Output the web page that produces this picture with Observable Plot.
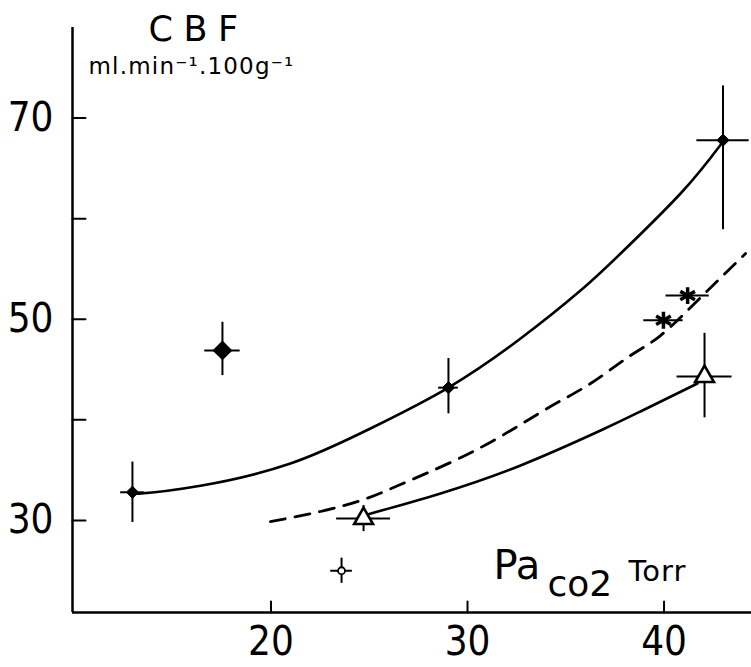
<!DOCTYPE html>
<html>
<head>
<meta charset="utf-8">
<script src="https://cdn.jsdelivr.net/npm/d3@7"></script>
<script src="https://cdn.jsdelivr.net/npm/@observablehq/plot@0.6"></script>
<style>
  html, body { margin: 0; padding: 0; background: #fff; }
  #chart svg { display: block; }
</style>
</head>
<body>
<div id="chart"></div>
<script>
// ---- scales / ticks ----
const xDomain = [9.9, 44.45];
const yDomain = [20.85, 79.0];
const xTicks = [20, 30, 40];
const xTickLabels = ["20", "30", "40"];
const yTicks = [30, 40, 50, 60, 70];
const yLabelTicks = [30, 50, 70];
const yTickLabels = ["30", "50", "70"];

// ---- filled diamonds (upper solid curve) ----
const diamondX = [12.95, 29.03, 43.0];
const diamondY = [32.8, 43.2, 67.8];
const diamondUp = [3.0, 2.9, 5.4];
const diamondDown = [3.0, 2.6, 8.9];
const diamondXErr = [0.6, 0.5, 1.33];

// ---- large filled diamond ----
const bigX = [17.53];
const bigY = [46.9];
const bigUp = [2.8];
const bigDown = [2.5];
const bigXErr = [0.9];

// ---- asterisks ----
const starX = [39.97, 41.2];
const starY = [49.9, 52.35];
const starXErr = [1.0, 1.1];

// ---- open triangles (lower solid curve) ----
const triX = [24.71, 42.06];
const triY = [30.19, 44.3];
const triUp = [1.3, 4.3];
const triDown = [1.3, 4.1];
const triXErr = [1.37, 1.4];

// ---- small open point ----
const openX = [23.59];
const openY = [25.0];
const openYErr = [1.25];
const openXErr = [0.55];

// ---- curves ----
const upperCurveX = [12.95, 13.26, 16.41, 20.99, 25.06, 29.03, 32.70, 35.75, 37.79, 40.84, 42.9];
const upperCurveY = [32.8, 32.67, 33.45, 35.66, 39.14, 43.21, 48.08, 52.85, 56.53, 62.50, 67.4];
const dashedCurveX = [19.97, 22.52, 24.71, 26.59, 29.13, 31.68, 34.22, 36.26, 38.29, 39.82, 41.86, 44.15];
const dashedCurveY = [29.89, 30.89, 32.08, 33.57, 35.76, 38.34, 41.32, 43.61, 46.39, 48.38, 52.16, 56.53];
const lowerCurveX = [24.91, 28.63, 32.70, 36.77, 38.80, 41.70];
const lowerCurveY = [30.6, 32.69, 35.47, 38.94, 40.83, 43.61];

// ---- text ----
const yTitle = "CBF";
const yUnit = "ml.min\u207B\u00B9.100g\u207B\u00B9";
const xTitleMain = "Pa";
const xTitleSub = "co2";
const xTitleUnit = "Torr";

// ---- build tables ----
const mk = (xs, ys, up, dn, xe) => xs.map((x, i) => ({x, y: ys[i], up: up ? up[i] : 0, dn: dn ? dn[i] : 0, xe: xe ? xe[i] : 0}));
const diamonds = mk(diamondX, diamondY, diamondUp, diamondDown, diamondXErr);
const bigs = mk(bigX, bigY, bigUp, bigDown, bigXErr);
const stars = mk(starX, starY, null, null, starXErr);
const tris = mk(triX, triY, triUp, triDown, triXErr);
const opens = mk(openX, openY, openYErr, openYErr, openXErr);
const allErr = [...diamonds, ...bigs, ...stars, ...tris, ...opens];
const line = (xs, ys) => xs.map((x, i) => ({x, y: ys[i]}));

const digitFont = "'Liberation Sans Narrow', 'DejaVu Sans Condensed', 'DejaVu Sans', sans-serif";
const textFont = "'DejaVu Sans', sans-serif";
const tickShape = {draw(context, l) { context.moveTo(0, 0); context.lineTo(0, -l); }};

const chart = Plot.plot({
  width: 751,
  height: 667,
  marginLeft: 72,
  marginRight: 0,
  marginTop: 27,
  marginBottom: 55,
  style: {background: "#fff", color: "#000", fontFamily: textFont},
  x: {domain: xDomain},
  y: {domain: yDomain},
  marks: [
    // axis lines
    Plot.ruleX([xDomain[0]], {y1: yDomain[0], y2: yDomain[1], stroke: "#000", strokeWidth: 2.5}),
    Plot.ruleY([yDomain[0]], {x1: xDomain[0], x2: xDomain[1], stroke: "#000", strokeWidth: 2.5}),
    // inward ticks
    Plot.vector(yTicks, {x: xDomain[0], y: d => d, rotate: 90, length: 13, anchor: "start", shape: tickShape, stroke: "#000", strokeWidth: 2}),
    Plot.vector(xTicks, {x: d => d, y: yDomain[0], rotate: 0, length: 11, anchor: "start", shape: tickShape, stroke: "#000", strokeWidth: 2}),
    // tick labels
    Plot.axisY({ticks: yLabelTicks, tickFormat: (d) => yTickLabels[yLabelTicks.indexOf(d)], anchor: "left", tickSize: 0, tickPadding: 19, fontSize: 40, fontFamily: digitFont, label: null}),
    Plot.axisX({ticks: xTicks, tickFormat: (d) => xTickLabels[xTicks.indexOf(d)], anchor: "bottom", tickSize: 0, tickPadding: 14, fontSize: 40, fontFamily: digitFont, label: null}),
    // curves
    Plot.line(line(upperCurveX, upperCurveY), {x: "x", y: "y", curve: "natural", stroke: "#000", strokeWidth: 2.6}),
    Plot.line(line(lowerCurveX, lowerCurveY), {x: "x", y: "y", curve: "natural", stroke: "#000", strokeWidth: 2.6}),
    Plot.line(line(dashedCurveX, dashedCurveY), {x: "x", y: "y", curve: "natural", stroke: "#000", strokeWidth: 2.8, strokeDasharray: "15,10"}),
    // error bars
    Plot.ruleX(allErr.filter(d => d.up || d.dn), {x: "x", y1: d => d.y - d.dn, y2: d => d.y + d.up, stroke: "#000", strokeWidth: 2}),
    Plot.ruleY(allErr.filter(d => d.xe), {y: "y", x1: d => d.x - d.xe, x2: d => d.x + d.xe, stroke: "#000", strokeWidth: 2}),
    // markers
    Plot.dot(diamonds, {x: "x", y: "y", symbol: "diamond2", r: 5.5, fill: "#000", stroke: "#000", strokeWidth: 1}),
    Plot.dot(bigs, {x: "x", y: "y", symbol: "diamond2", r: 8, fill: "#000", stroke: "#000", strokeWidth: 1.5}),
    Plot.dot(stars, {x: "x", y: "y", symbol: "asterisk", r: 8, stroke: "#000", strokeWidth: 3.5}),
    Plot.dot(tris, {x: "x", y: "y", symbol: "triangle", r: 7, fill: "#fff", stroke: "#000", strokeWidth: 2.6}),
    Plot.dot(opens, {x: "x", y: "y", symbol: "circle", r: 3.5, fill: "#fff", stroke: "#000", strokeWidth: 1.8}),
    // titles
    Plot.text([yTitle], {frameAnchor: "top-left", dx: 76, dy: 13, lineAnchor: "bottom", textAnchor: "start", fontSize: 35, fontFamily: textFont}),
    Plot.text([yUnit], {frameAnchor: "top-left", dx: 16, dy: 46, lineAnchor: "bottom", textAnchor: "start", fontSize: 23, fontFamily: textFont}),
    Plot.text([xTitleMain], {frameAnchor: "bottom-left", dx: 421, dy: -34, lineAnchor: "bottom", textAnchor: "start", fontSize: 40, fontFamily: textFont}),
    Plot.text([xTitleSub], {frameAnchor: "bottom-left", dx: 475, dy: -17, lineAnchor: "bottom", textAnchor: "start", fontSize: 36, fontFamily: textFont}),
    Plot.text([xTitleUnit], {frameAnchor: "bottom-left", dx: 556, dy: -32, lineAnchor: "bottom", textAnchor: "start", fontSize: 29, fontFamily: textFont})
  ]
});

d3.select(chart).selectAll("text").filter(function() { return this.textContent === yTitle; }).attr("letter-spacing", "0.3em");
d3.select(chart).selectAll("text").filter(function() { return this.textContent === yUnit; }).attr("letter-spacing", "1.2px");
d3.select(chart).selectAll("text").filter(function() { return this.textContent === xTitleUnit; }).attr("letter-spacing", "1px");
document.getElementById("chart").appendChild(chart);
</script>
</body>
</html>
